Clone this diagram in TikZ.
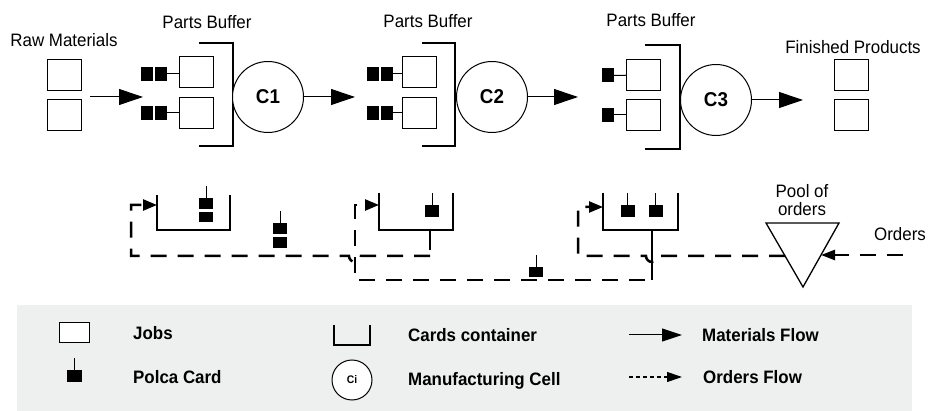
\documentclass[tikz,border=0pt]{standalone}
\usepackage{fontspec}
\setmainfont{Liberation Sans}
\newfontfamily\narrowsans[FakeStretch=0.94]{Liberation Sans}
\usepackage{tikz}
\usetikzlibrary{arrows.meta, positioning}
\definecolor{LegendGray}{RGB}{238,240,240}

% polca card with its stem: x centre, y top of card
\newcommand{\polca}[3][11]{%
  \draw[line width=1pt] (#2,#3) -- ++(0,-12);
  \fill (#2-7,#3) rectangle ++(14,#1);}

\begin{document}
\begin{tikzpicture}[x=1pt, y=-1pt,
    job/.style={rectangle, draw, line width=1pt, fill=white, minimum width=34pt, minimum height=31pt, inner sep=0pt},
    card/.style={rectangle, fill=black, minimum width=12pt, minimum height=14pt, inner sep=0pt},
    cell/.style={circle, draw, line width=1pt, fill=white, minimum size=71pt, inner sep=0pt, font=\narrowsans\fontsize{20}{22}\selectfont\bfseries},
    lbl/.style={font=\narrowsans\fontsize{18}{19}\selectfont, inner sep=0pt, align=center},
    keytext/.style={font=\narrowsans\fontsize{18}{19}\selectfont\bfseries, inner sep=0pt, anchor=base west},
    box/.style={line width=1.3pt},
    matflow/.style={-{Triangle[length=24pt, width=16pt]}, line width=1pt},
    ordflow/.style={line width=2.5pt, dash pattern=on 16pt off 11pt},
    cardtip/.style={-{Triangle[length=14pt, width=11pt]}}
]
\useasboundingbox (0,0) rectangle (932,411);

% top row: materials flow
\node[lbl] (rawlbl) at (64,40) {Raw Materials};
\node[job] (raw1) at (64,75.5) {};
\node[job] (raw2) at (64,115) {};

\node[lbl] (buflbl1) at (207,22) {Parts Buffer};
\node[lbl] (buflbl2) at (428,21) {Parts Buffer};
\node[lbl] (buflbl3) at (651,20) {Parts Buffer};
\node[lbl] (finlbl) at (853,47) {Finished Products};

\node[job] (b1a) at (196.5,72.5) {};
\node[job] (b1b) at (196.5,113) {};
\node[job] (b2a) at (419.5,72.5) {};
\node[job] (b2b) at (419.5,113) {};
\node[job] (b3a) at (643.5,75) {};
\node[job] (b3b) at (643.5,115) {};
\node[job] (fin1) at (851,75) {};
\node[job] (fin2) at (851,115) {};

\node[card] (k1a1) at (147,74) {};
\node[card] (k1a2) at (161,74) {};
\node[card] (k1b1) at (147,113) {};
\node[card] (k1b2) at (161,113) {};
\node[card] (k2a1) at (373,74) {};
\node[card] (k2a2) at (387,74) {};
\node[card] (k2b1) at (373,113) {};
\node[card] (k2b2) at (387,113) {};
\node[card] (k3a) at (608,75.5) {};
\node[card] (k3b) at (608,115) {};
\draw[line width=1pt] (k1a2) -- (k1a2-|b1a.west);
\draw[line width=1pt] (k1b2) -- (b1b);
\draw[line width=1pt] (k2a2) -- (k2a2-|b2a.west);
\draw[line width=1pt] (k2b2) -- (b2b);
\draw[line width=1pt] (k3a) -- (b3a);
\draw[line width=1pt] (k3b) -- (b3b);

\draw[box] (199,43) -- (233,43) -- (233,146) -- (199,146);
\draw[box] (422,43) -- (455,43) -- (455,146) -- (422,146);
\draw[box] (645,45) -- (680,45) -- (680,149) -- (645,149);

\node[cell] (c1) at (268,97) {C1};
\node[cell] (c2) at (492,97) {C2};
\node[cell] (c3) at (716,100) {C3};

\coordinate (rawout) at (90,97);
\coordinate (buf1in) at (143,97);
\coordinate (buf2in) at (355,97);
\coordinate (buf3in) at (578,97);
\coordinate (finin) at (803,100);
\draw[matflow] (rawout) -- (buf1in);
\draw[matflow] (c1) -- (buf2in);
\draw[matflow] (c2) -- (buf3in);
\draw[matflow] (c3) -- (finin);

% bottom row: cards containers and orders flow
\draw[box] (157,195) -- (157,230) -- (230,230) -- (230,195);
\draw[box] (379,193) -- (379,230) -- (453,230) -- (453,193);
\draw[box] (603,193) -- (603,230) -- (678,230) -- (678,193);

\polca{206}{198}
\fill (199,212) rectangle ++(14,10);
\polca{280}{223}
\fill (273,237) rectangle ++(14,11);
\polca[12]{432}{205}
\polca[10]{536}{267}
\polca[12]{627.5}{205}
\polca[12]{655.5}{205}

\coordinate (poolL) at (766,223);
\coordinate (poolR) at (839,223);
\coordinate (poolB) at (803,287);
\draw[box] (poolL) -- (poolR) -- (poolB) -- cycle;
\node[lbl] (poollbl) at (802,200) {Pool of\\[-1pt]orders};
\node[lbl] (ordlbl) at (900,234) {Orders};
\coordinate (ordstart) at (903,255);
\coordinate (poolin) at (821,255);
\draw[ordflow, -{Triangle[length=14pt, width=10pt]}] (ordstart) -- (poolin);

\draw[box] (430,230) -- (430,250);
\draw[box] (652,230) -- (652,280);
\draw[ordflow, cardtip] (430,256) -- (361,256) arc[start angle=0, end angle=180, radius=6] -- (131,256) -- (131,205) -- (157,205);
\draw[ordflow, cardtip] (645,280) -- (355,280) -- (355,205) -- (379,205);
\draw[ordflow, cardtip] (785,256) -- (658,256) arc[start angle=0, end angle=180, radius=6] -- (578,256) -- (578,207) -- (603,207);

% legend
\fill[LegendGray] (17,305) rectangle (912,411);
\node[job, minimum width=30pt, minimum height=20pt] (keyjob) at (74,333) {};
\node[keytext] (keyjobtxt) at (133,340) {Jobs};
\draw[line width=1pt] (74,358) -- (74,370);
\fill (67,370) rectangle (82,382);
\node[keytext] (keycardtxt) at (133,384) {Polca Card};
\draw[box] (334,325) -- (334,345) -- (370,345) -- (370,325);
\node[keytext] (keycontxt) at (408,342) {Cards container};
\node[cell, minimum size=40pt, font=\narrowsans\fontsize{11}{12}\selectfont\bfseries] (keycell) at (352,380) {Ci};
\node[keytext] (keycelltxt) at (408,386) {Manufacturing Cell};
\coordinate (keymat1) at (629,335);
\coordinate (keymat2) at (682,335);
\draw[-{Triangle[length=20pt, width=13pt]}, line width=1pt] (keymat1) -- (keymat2);
\node[keytext] (keymattxt) at (702,342) {Materials Flow};
\coordinate (keyord1) at (629,377);
\coordinate (keyord2) at (682,377);
\draw[-{Triangle[length=15pt, width=10pt]}, line width=1.2pt, dash pattern=on 4pt off 3pt] (keyord1) -- (keyord2);
\node[keytext] (keyordtxt) at (703,384) {Orders Flow};
\end{tikzpicture}
\end{document}
